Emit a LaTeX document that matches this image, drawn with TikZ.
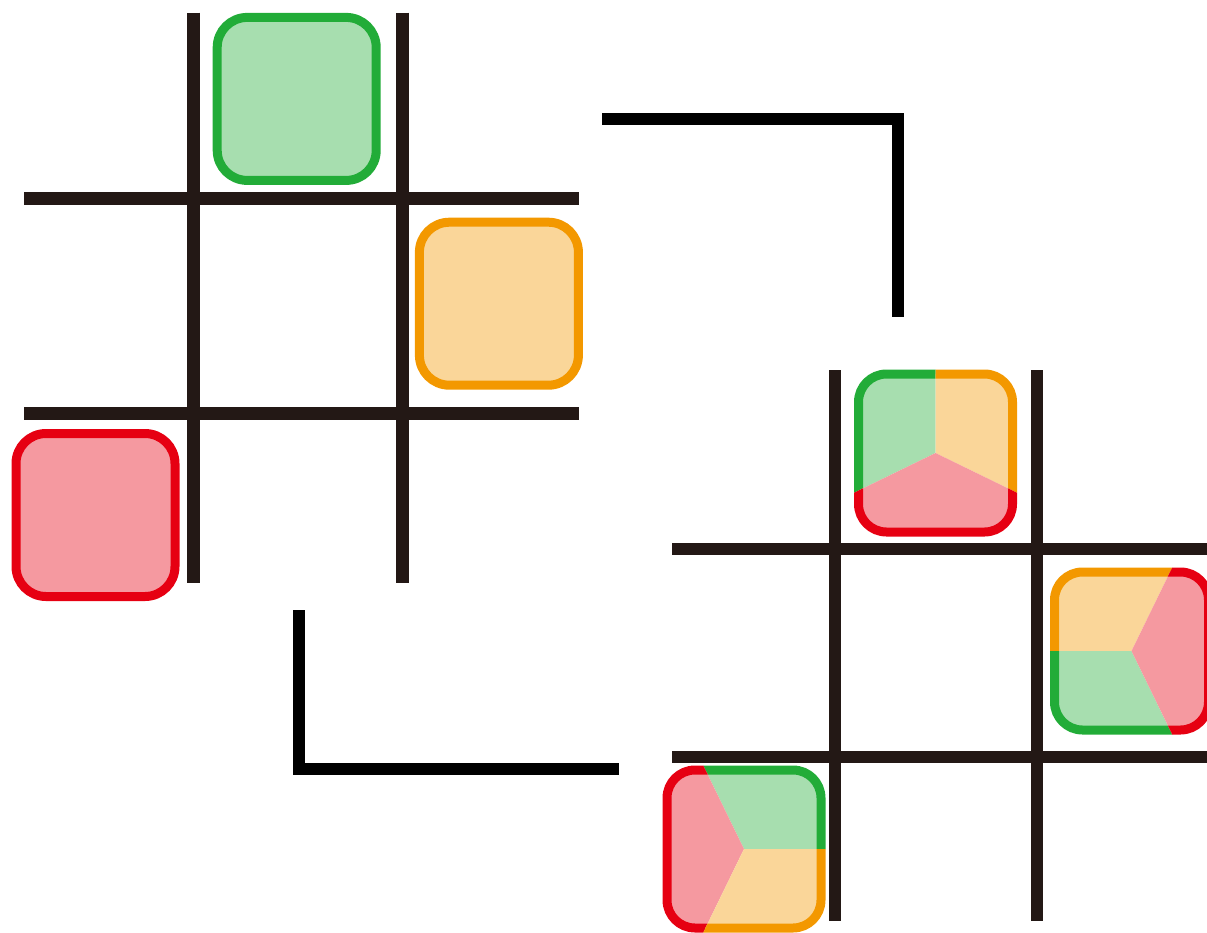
\documentclass[tikz,border=0pt]{standalone}
\usetikzlibrary{calc}
\definecolor{cgreen}{HTML}{22AC38}
\definecolor{corange}{HTML}{F39800}
\definecolor{cred}{HTML}{E60012}
\definecolor{cgrid}{HTML}{231815}
\tikzset{
  gridline/.style={draw=cgrid, line width=13pt},
  bracketline/.style={draw=black, line width=12pt, line join=miter},
  tile/.style={draw=#1, fill=#1!40, line width=9pt, rounded corners=30pt, minimum width=159pt, minimum height=163pt, inner sep=0pt, outer sep=0pt},
  tile/.default=cgreen,
  spot/.style={minimum width=154pt, minimum height=158pt, inner sep=0pt, outer sep=0pt},
  tilepath/.style={draw=#1, fill=#1!40, line width=9pt, rounded corners=28pt},
}
% one coloured sector of a split tile: spot node, colour, start angle, end angle
\newcommand{\tilepart}[4]{%
  \begin{scope}
    \clip (#1.center) -- ($(#1.center)+(#3:150pt)$) -- ($(#1.center)+({(#3+#4)/2}:300pt)$) -- ($(#1.center)+(#4:150pt)$) -- cycle;
    \draw[tilepath=#2] (#1.south west) rectangle (#1.north east);
  \end{scope}}

\begin{document}
\begin{tikzpicture}[x=1pt, y=-1pt]
  \useasboundingbox (0,0) rectangle (1207,932);
  % left board
  \foreach \x in {193, 402} \draw[gridline] (\x,12.7) -- (\x,582.7);
  \foreach \y in {198.5, 413} \draw[gridline] (24.3,\y) -- (579.3,\y);
  \node[tile=cgreen] (g) at (296.7,98.9) {};
  \node[tile=corange] (o) at (498.9,303.7) {};
  \node[tile=cred] (r) at (95.5,515) {};
  % turning brackets
  \draw[bracketline] (602,119.3) -| (898.3,316.7);
  \draw[bracketline] (298.5,610) |- (619,769);
  % right board
  \foreach \x in {835, 1037} \draw[gridline, line width=12.5pt] (\x,370) -- (\x,920.7);
  \foreach \y in {549, 757} \draw[gridline, line width=12.5pt] (672.3,\y) -- (1210,\y);
  \node[spot] (m1) at (935.5,453) {};
  \node[spot] (m2) at (1131.5,651) {};
  \node[spot] (m3) at (744,849) {};
  \foreach \s/\c/\a/\b in {m1/cgreen/90/206, m1/corange/-26/90, m1/cred/206/334,
                           m2/corange/64/180, m2/cgreen/180/296, m2/cred/-64/64,
                           m3/cgreen/0/116, m3/cred/116/244, m3/corange/244/360}
    \tilepart{\s}{\c}{\a}{\b};
\end{tikzpicture}
\end{document}
